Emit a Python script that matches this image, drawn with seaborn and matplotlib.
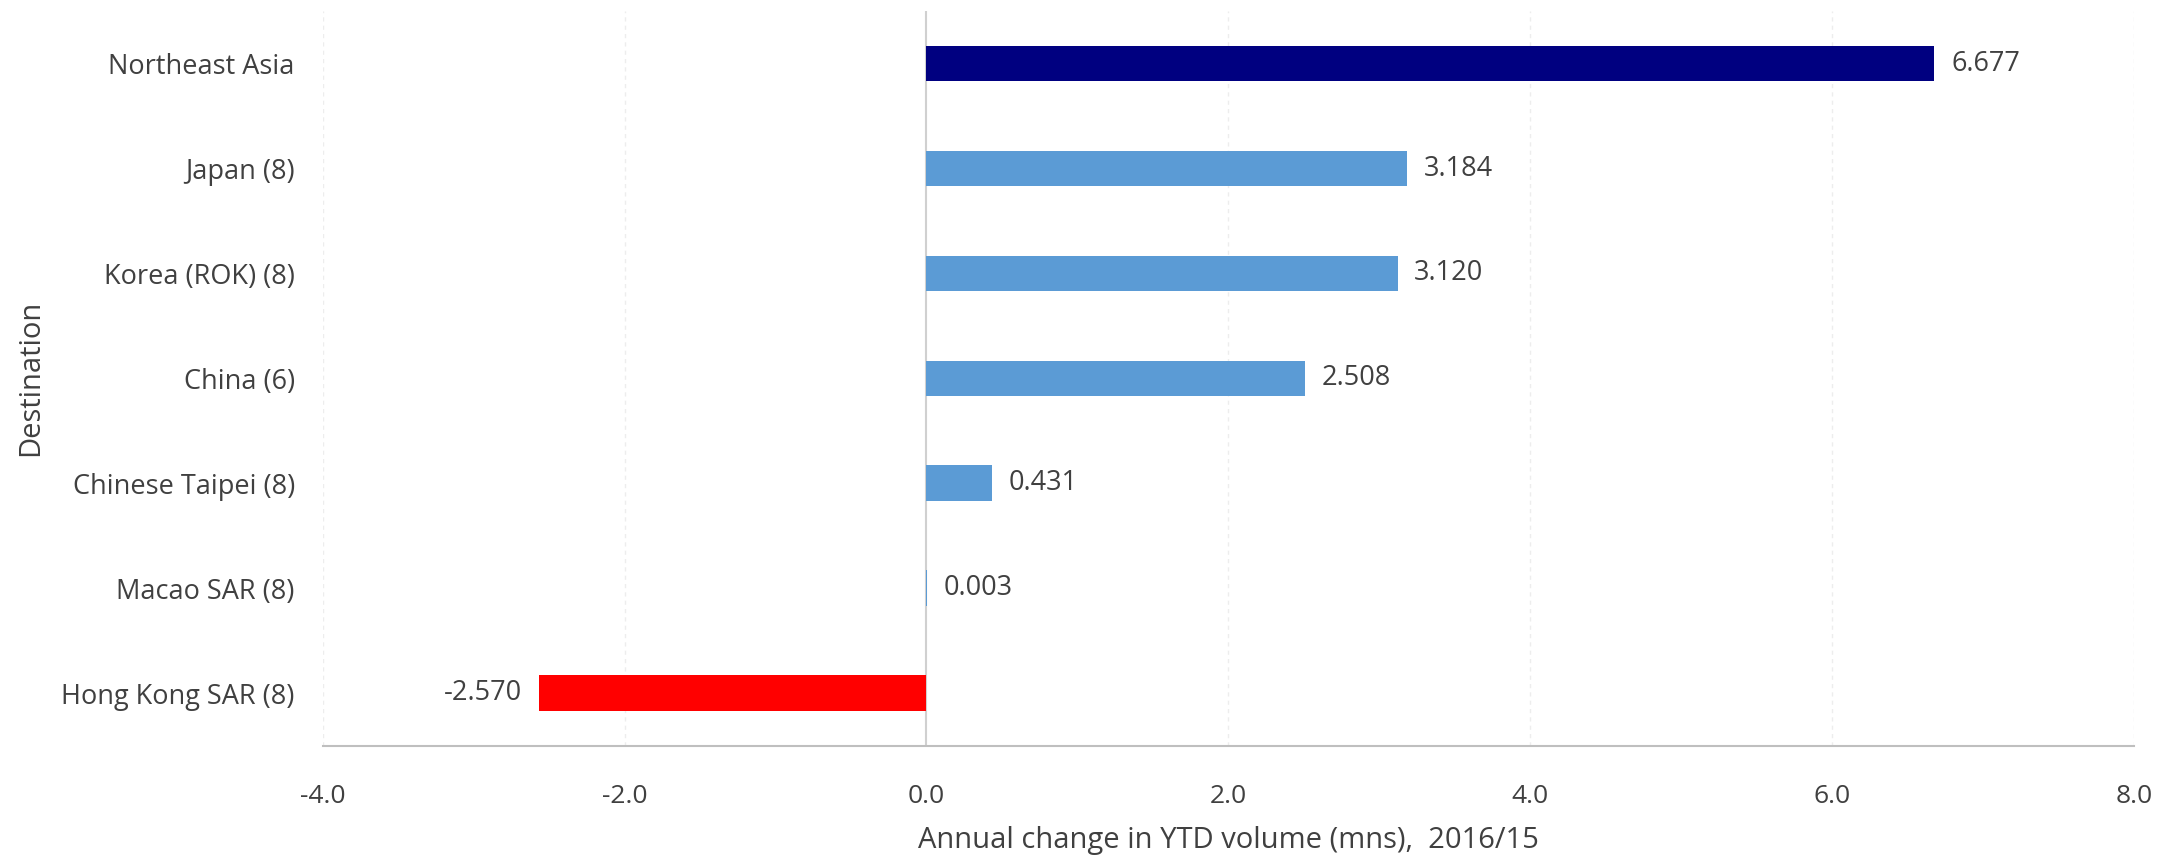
import numpy as np
import pandas as pd
import matplotlib
matplotlib.use("Agg")
import matplotlib.pyplot as plt
import seaborn as sns

# Data
destinations = ['Northeast Asia', 'Japan (8)', 'Korea (ROK) (8)', 'China (6)',
                'Chinese Taipei (8)', 'Macao SAR (8)', 'Hong Kong SAR (8)']
changes = [6.677, 3.184, 3.120, 2.508, 0.431, 0.003, -2.570]
bar_colors = ['#000080', '#5B9BD5', '#5B9BD5', '#5B9BD5', '#5B9BD5', '#5B9BD5', '#FF0000']
x_ticks = [-4.0, -2.0, 0.0, 2.0, 4.0, 6.0, 8.0]

df = pd.DataFrame({'Destination': destinations, 'Change': changes})

sns.set_theme(style='white')
plt.rcParams['font.family'] = ['Open Sans', 'DejaVu Sans']
txt = '#404040'

fig = plt.figure(figsize=(21.8, 8.57), dpi=100)
ax = fig.add_axes([0.148, 0.130, 0.831, 0.857])

sns.barplot(data=df, x='Change', y='Destination', hue='Destination',
            palette=dict(zip(destinations, bar_colors)), legend=False,
            width=0.34, saturation=1, orient='h', linewidth=0, ax=ax)

ax.set_xlim(-4, 8)
ax.set_xticks(x_ticks)
ax.set_xticklabels([f'{t:.1f}' for t in x_ticks], fontsize=19, color=txt)
ax.tick_params(axis='x', length=0, pad=28)
ax.tick_params(axis='y', length=0, pad=20, labelsize=19.5, labelcolor=txt)

# gridlines
for t in x_ticks:
    if t == 0:
        ax.axvline(t, color='#D0D0D0', lw=1.5, zorder=0)
    else:
        ax.axvline(t, color='#EDEDED', lw=1, ls=(0, (3, 3)), zorder=0)

for s in ['top', 'right', 'left']:
    ax.spines[s].set_visible(False)
ax.spines['bottom'].set_color('#BFBFBF')
ax.spines['bottom'].set_linewidth(1.5)

# value labels
for i, v in enumerate(changes):
    if v >= 0:
        ax.text(v + 0.11, i, f'{v:.3f}', va='center', ha='left', fontsize=19.5, color=txt)
    else:
        ax.text(v - 0.11, i, f'{v:.3f}', va='center', ha='right', fontsize=19.5, color=txt)

ax.set_xlabel('Annual change in YTD volume (mns),  2016/15', fontsize=21, color=txt, labelpad=12)
ax.set_ylabel('Destination', fontsize=21, color=txt)
ax.yaxis.set_label_coords(-0.153, 0.5)

fig.savefig('out.png', dpi=100, facecolor='white')
